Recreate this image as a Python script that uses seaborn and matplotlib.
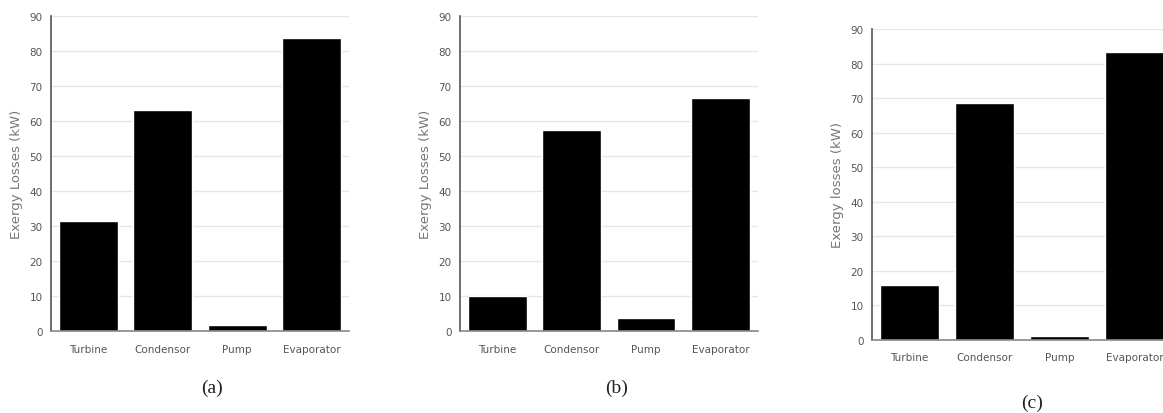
import matplotlib
matplotlib.use("Agg")
import matplotlib.pyplot as plt
import seaborn as sns
import pandas as pd

# components and exergy losses (kW) for the three cases
components = ["Turbine", "Condensor", "Pump", "Evaporator"]
losses_a = [31.5, 63.0, 1.7, 83.8]
losses_b = [10.0, 57.5, 3.8, 66.6]
losses_c = [15.8, 68.5, 1.0, 83.5]

ylabels = ["Exergy Losses (kW)", "Exergy Losses (kW)", "Exergy losses (kW)"]
captions = ["(a)", "(b)", "(c)"]

sns.set_theme(style="whitegrid")
plt.rcParams["font.family"] = ["DejaVu Sans"]

fig = plt.figure(figsize=(11.63, 4.14), dpi=100)

# axes boxes in figure fractions (panel c runs off the right edge like the source)
boxes = [
    [0.0439, 0.198, 0.256, 0.761],
    [0.3955, 0.198, 0.256, 0.761],
    [0.7498, 0.177, 0.258, 0.750],
]
caption_pos = [(212, 388), (617, 388), (1032, 403)]

for data, box, ylab, cap, cpos in zip([losses_a, losses_b, losses_c], boxes,
                                      ylabels, captions, caption_pos):
    ax = fig.add_axes(box)
    df = pd.DataFrame({"Component": components, "Loss": data})
    sns.barplot(data=df, x="Component", y="Loss", color="black",
                saturation=1, width=0.79, ax=ax)
    ax.set_ylim(0, 90)
    ax.set_xlim(-0.5, 3.5)
    ax.set_yticks(range(0, 91, 10))
    ax.grid(axis="y", color="#e6e6e6", linewidth=1.0)
    ax.grid(axis="x", visible=False)
    ax.set_axisbelow(True)
    for side in ["top", "right"]:
        ax.spines[side].set_visible(False)
    ax.spines["left"].set_color("#555555")
    ax.spines["left"].set_linewidth(1.2)
    ax.spines["bottom"].set_color("#888888")
    ax.spines["bottom"].set_linewidth(1.2)
    ax.tick_params(axis="both", length=0, labelsize=7.5, colors="#555555", pad=6)
    ax.tick_params(axis="x", pad=9)
    ax.set_xlabel("")
    ax.set_ylabel(ylab, fontsize=9.5, color="#777777", labelpad=5)
    fig.text(cpos[0] / 1163, 1 - cpos[1] / 414, cap, ha="center", va="center",
             fontsize=14, family="Liberation Serif", color="#222222")

fig.savefig("out.png", dpi=100)
